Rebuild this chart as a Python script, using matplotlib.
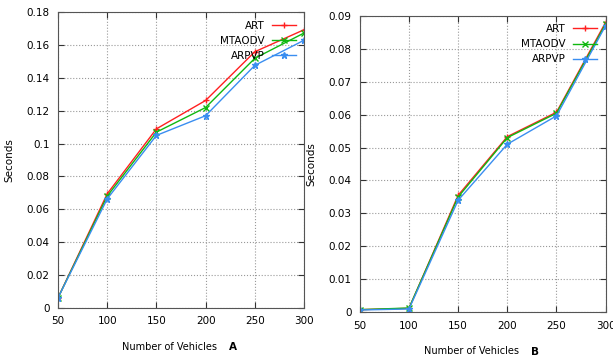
from matplotlib import pyplot as plt
import numpy as np

plt.rcParams['font.family'] = ['Liberation Sans Narrow', 'DejaVu Sans']

vehicles = [50, 100, 150, 200, 250, 300]

# panel A
art_a = [0.006, 0.0694, 0.109, 0.1263, 0.156, 0.1694]
mtaodv_a = [0.006, 0.068, 0.107, 0.122, 0.152, 0.1674]
arpvp_a = [0.006, 0.0663, 0.105, 0.117, 0.1477, 0.163]

# panel B
art_b = [0.0008, 0.0012, 0.0355, 0.0533, 0.0607, 0.088]
mtaodv_b = [0.0008, 0.0013, 0.035, 0.053, 0.0604, 0.0875]
arpvp_b = [0.0007, 0.0010, 0.034, 0.051, 0.0596, 0.087]

labels = ['ART', 'MTAODV', 'ARPVP']
colors = ['#ff2020', '#10b810', '#3a8ef0']
markers = ['+', 'x', '*']

fs = 7.5

fig = plt.figure(figsize=(6.13, 3.63), dpi=100)
ax1 = fig.add_axes([0.0946, 0.1523, 0.4014, 0.8137])
ax2 = fig.add_axes([0.587, 0.1397, 0.401, 0.8171])

def draw(ax, series, ymax, ystep, letter):
	for s, lab, c, m in zip(series, labels, colors, markers):
		ax.plot(vehicles, s, color=c, marker=m, markersize=5, linewidth=1, label=lab)
	ax.set_xlim(50, 300)
	ax.set_ylim(0, ymax)
	ax.set_xticks(vehicles)
	ax.set_yticks(np.arange(0, ymax + ystep / 2, ystep))
	ax.set_yticklabels(['0'] + ['%g' % v for v in np.arange(ystep, ymax + ystep / 2, ystep)])
	ax.grid(True, linestyle=':', color='#999999', linewidth=0.8)
	ax.tick_params(direction='in', top=True, right=True, labelsize=fs, length=4, color='#333333', pad=6)
	for sp in ax.spines.values():
		sp.set_color('#555555')
	ax.set_ylabel('Seconds', fontsize=fs, labelpad=9)
	ax.set_xlabel('Number of Vehicles', fontsize=7)
	ax.xaxis.set_label_coords(0.455, -0.115)
	ax.text(0.695, -0.133, letter, transform=ax.transAxes, fontsize=fs, fontweight='bold', ha='left', va='center')
	ax.legend(loc='upper right', frameon=False, markerfirst=False, fontsize=fs,
		handlelength=2.3, labelspacing=0.5, borderaxespad=0.4, handletextpad=0.7)

draw(ax1, [art_a, mtaodv_a, arpvp_a], 0.18, 0.02, 'A')
draw(ax2, [art_b, mtaodv_b, arpvp_b], 0.09, 0.01, 'B')

fig.savefig('out.png', dpi=100)
